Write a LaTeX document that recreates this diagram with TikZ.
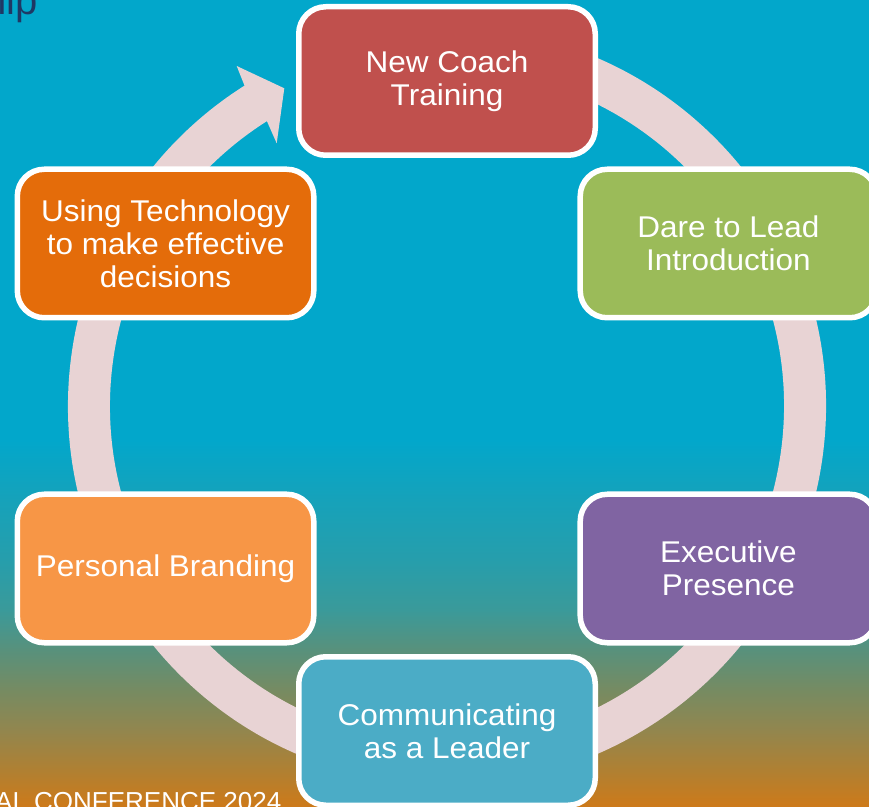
\documentclass[tikz,border=0pt]{standalone}
\usepackage{fontspec}
\setmainfont[FakeStretch=1.05]{Liberation Sans}
\newfontfamily\plainfont{Liberation Sans}
\definecolor{bgC}{RGB}{2,167,203}
\definecolor{bg1}{RGB}{22,162,186}
\definecolor{bg2}{RGB}{38,158,172}
\definecolor{bg3}{RGB}{58,154,154}
\definecolor{bg4}{RGB}{88,145,124}
\definecolor{bg5}{RGB}{118,139,98}
\definecolor{bg6}{RGB}{146,134,78}
\definecolor{bg7}{RGB}{176,128,50}
\definecolor{bgO}{RGB}{205,122,26}
\definecolor{ringc}{RGB}{232,211,212}
\definecolor{cNew}{RGB}{192,80,77}
\definecolor{cDare}{RGB}{155,187,89}
\definecolor{cExec}{RGB}{128,100,162}
\definecolor{cComm}{RGB}{75,172,198}
\definecolor{cPers}{RGB}{247,150,70}
\definecolor{cTech}{RGB}{228,108,10}
\definecolor{navy}{RGB}{31,56,100}
\pgfdeclareverticalshading{bgshade}{100bp}{color(0bp)=(bgO); color(25bp)=(bgO); color(27.2bp)=(bg7); color(29.7bp)=(bg6); color(32.2bp)=(bg5); color(34.7bp)=(bg4); color(37.2bp)=(bg3); color(40.3bp)=(bg2); color(44bp)=(bg1); color(47.7bp)=(bgC); color(75bp)=(bgC); color(100bp)=(bgC)}
\begin{document}
\begin{tikzpicture}[x=1pt,y=1pt,
  box/.style={draw=white, line width=5.5pt, rounded corners=27pt,
    minimum width=296.5pt, minimum height=148.5pt, text=white,
    align=center, inner sep=0pt, font=\fontsize{30}{33}\selectfont},
  ring/.style={draw=ringc, line width=42pt}]
\useasboundingbox (0,0) rectangle (869,806);
\clip (0,0) rectangle (869,806);
\shade[shading=bgshade] (0,0) rectangle (869,806);
\coordinate (C) at (447,400);
% circular arrow
\draw[ring] ([shift={(80:358)}]C) arc[start angle=80, end angle=-239, radius=358];
\fill[ringc] (244.5,720.4) -- (236.7,740) -- (284.3,717.7) -- (276.7,662.7) -- (266.9,684.9) -- cycle;
% boxes
\node[box, fill=cNew]  (n1) at ([shift={(90:325)}]C)  {New Coach\\Training};
\node[box, fill=cDare] (n2) at ([shift={(30:325)}]C)  {Dare to Lead\\Introduction};
\node[box, fill=cExec] (n3) at ([shift={(-30:325)}]C) {Executive\\Presence};
\node[box, fill=cComm] (n4) at ([shift={(-90:325)}]C) {Communicating\\as a Leader};
\node[box, fill=cPers] (n5) at ([shift={(210:325)}]C) {\raisebox{-2pt}{Personal Branding}};
\node[box, fill=cTech] (n6) at ([shift={(150:325)}]C) {Using Technology\\to make effective\\decisions};
% cut-off slide texts
\node[anchor=base east, text=navy, inner sep=0pt, font=\plainfont\fontsize{40}{40}\selectfont] (title) at (38,791) {hip};
\node[anchor=base west, text=white, inner sep=0pt, font=\plainfont\fontsize{26}{26}\selectfont] (conf) at (-5,-4.3) {AL CONFERENCE 2024};
\end{tikzpicture}
\end{document}
